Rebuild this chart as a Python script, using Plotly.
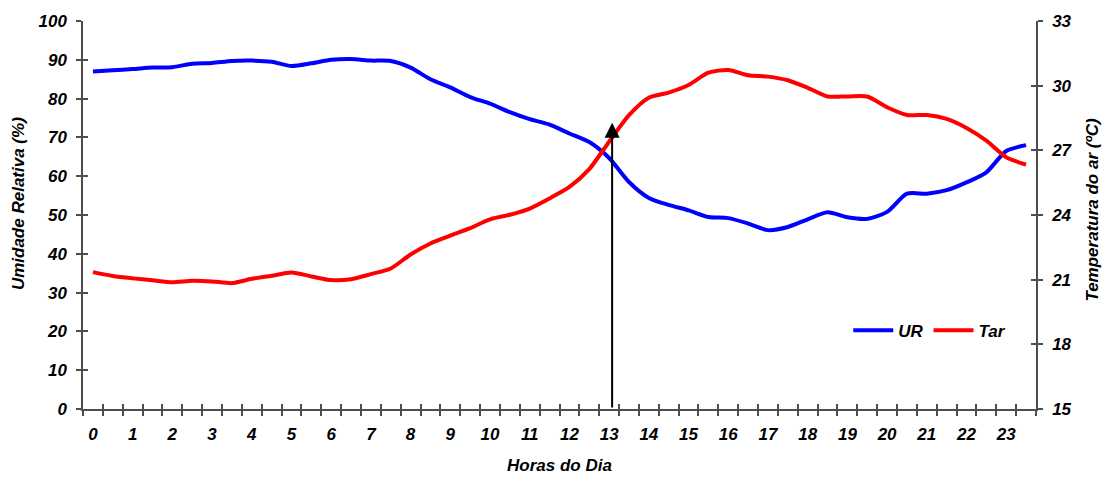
import plotly.graph_objects as go

# Half-hourly categories (48), labelled every hour
hour_labels = [str(h) for h in range(24)]
categories = list(range(48))

ur = [87.0, 87.3, 87.6, 88.0, 88.1, 89.0, 89.2, 89.7, 89.8, 89.5,
      88.4, 89.1, 90.0, 90.2, 89.8, 89.7, 88.0, 85.0, 82.9, 80.4,
      78.7, 76.5, 74.7, 73.3, 71.0, 68.8, 64.7, 58.5, 54.4, 52.6,
      51.2, 49.5, 49.2, 47.8, 46.1, 46.9, 48.9, 50.7, 49.4, 49.0,
      50.8, 55.5, 55.5, 56.4, 58.4, 61.0, 66.5, 68.0]

tar = [21.35, 21.17, 21.06, 20.97, 20.88, 20.95, 20.92, 20.84, 21.04, 21.18,
       21.33, 21.15, 20.98, 21.02, 21.26, 21.52, 22.17, 22.68, 23.04, 23.39,
       23.80, 24.01, 24.30, 24.77, 25.30, 26.13, 27.40, 28.63, 29.44, 29.68,
       30.03, 30.60, 30.73, 30.48, 30.42, 30.25, 29.90, 29.50, 29.50, 29.50,
       29.00, 28.64, 28.64, 28.46, 28.04, 27.45, 26.68, 26.34]

ur_ticks = list(range(0, 101, 10))
tar_ticks = list(range(15, 34, 3))

arrow_x = 26.15
arrow_top = 73.8

FONT = "Liberation Sans, Arial, sans-serif"
AX = "#4d4d4d"
base_font = dict(family=FONT, size=17, color="black", weight="bold", style="italic")

boundaries = [c - 0.5 for c in categories] + [categories[-1] + 0.5]
label_pos = categories[::2]

fig = go.Figure()
fig.add_trace(go.Scatter(x=categories, y=ur, name="UR", mode="lines",
                         line=dict(color="#0000ff", width=4, shape="spline", smoothing=0.7),
                         xaxis="x", yaxis="y"))
fig.add_trace(go.Scatter(x=categories, y=tar, name="Tar", mode="lines",
                         line=dict(color="#ff0000", width=4, shape="spline", smoothing=0.7),
                         xaxis="x", yaxis="y2"))
# invisible helpers so the overlay axes (inner half of the cross ticks) render
fig.add_trace(go.Scatter(x=categories, y=ur, mode="lines", opacity=0, showlegend=False,
                         hoverinfo="skip", xaxis="x3", yaxis="y3"))
fig.add_trace(go.Scatter(x=categories, y=tar, mode="lines", opacity=0, showlegend=False,
                         hoverinfo="skip", xaxis="x", yaxis="y4"))

xr = [-0.5, 47.5]
fig.update_layout(
    width=1106, height=480,
    margin=dict(l=83, r=70, t=18, b=71),
    paper_bgcolor="white", plot_bgcolor="white",
    font=base_font,
    showlegend=True,
    legend=dict(orientation="h", x=0.803, y=0.202, xanchor="left", yanchor="middle",
                font=base_font, bgcolor="rgba(0,0,0,0)", itemwidth=40,
                tracegroupgap=0),
    xaxis=dict(range=xr, tickmode="array", tickvals=label_pos, ticktext=hour_labels,
               ticks="", showline=True, linecolor=AX, linewidth=1.5, showgrid=False,
               zeroline=False, ticklabelstandoff=9, tickfont=base_font,
               minor=dict(tickmode="array", tickvals=boundaries, ticks="outside",
                          ticklen=5, tickcolor=AX, tickwidth=1.5, showgrid=False)),
    xaxis3=dict(range=xr, overlaying="x", anchor="y3", side="bottom", tickmode="array",
                tickvals=boundaries, ticks="inside", ticklen=5, tickcolor=AX, tickwidth=1.5,
                showticklabels=False, showline=False, showgrid=False, zeroline=False),
    yaxis=dict(range=[0, 100], tickmode="array", tickvals=ur_ticks, ticks="outside",
               ticklen=5, tickcolor=AX, tickwidth=1.5, showline=True, linecolor=AX,
               linewidth=1.5, showgrid=False, zeroline=False, ticklabelstandoff=6,
               tickfont=base_font),
    yaxis3=dict(range=[0, 100], overlaying="y", anchor="x3", side="left", tickmode="array",
                tickvals=ur_ticks, ticks="inside", ticklen=5, tickcolor=AX, tickwidth=1.5,
                showticklabels=False, showline=False, showgrid=False, zeroline=False),
    yaxis2=dict(range=[15, 33], overlaying="y", anchor="x", side="right", tickmode="array",
                tickvals=tar_ticks, ticks="outside", ticklen=5, tickcolor=AX, tickwidth=1.5,
                showline=True, linecolor=AX, linewidth=1.5, showgrid=False, zeroline=False,
                ticklabelstandoff=6, tickfont=base_font),
    yaxis4=dict(range=[15, 33], overlaying="y", anchor="x", side="right", tickmode="array",
                tickvals=tar_ticks, ticks="inside", ticklen=5, tickcolor=AX, tickwidth=1.5,
                showticklabels=False, showline=False, showgrid=False, zeroline=False),
    annotations=[
        dict(x=arrow_x, y=arrow_top, ax=arrow_x, ay=0, xref="x", yref="y", axref="x",
             ayref="y", text="", showarrow=True, arrowhead=2, arrowsize=1.5,
             arrowwidth=2, arrowcolor="black", standoff=0, startstandoff=0),
        dict(text="Umidade Relativa (%)", xref="paper", yref="paper", x=-0.067, y=0.5285,
             showarrow=False, textangle=-90, font=base_font, xanchor="center",
             yanchor="middle"),
        dict(text="Temperatura do ar (ºC)", xref="paper", yref="paper", x=1.059, y=0.5145,
             showarrow=False, textangle=-90, font=base_font, xanchor="center",
             yanchor="middle"),
        dict(text="Horas do Dia", xref="paper", yref="paper", x=0.5, y=-0.146,
             showarrow=False, font=base_font, xanchor="center", yanchor="middle"),
    ],
)

fig.write_html("out.html", config={"displayModeBar": False},
               post_script="document.body.style.margin='0px';document.body.style.overflow='hidden';")
